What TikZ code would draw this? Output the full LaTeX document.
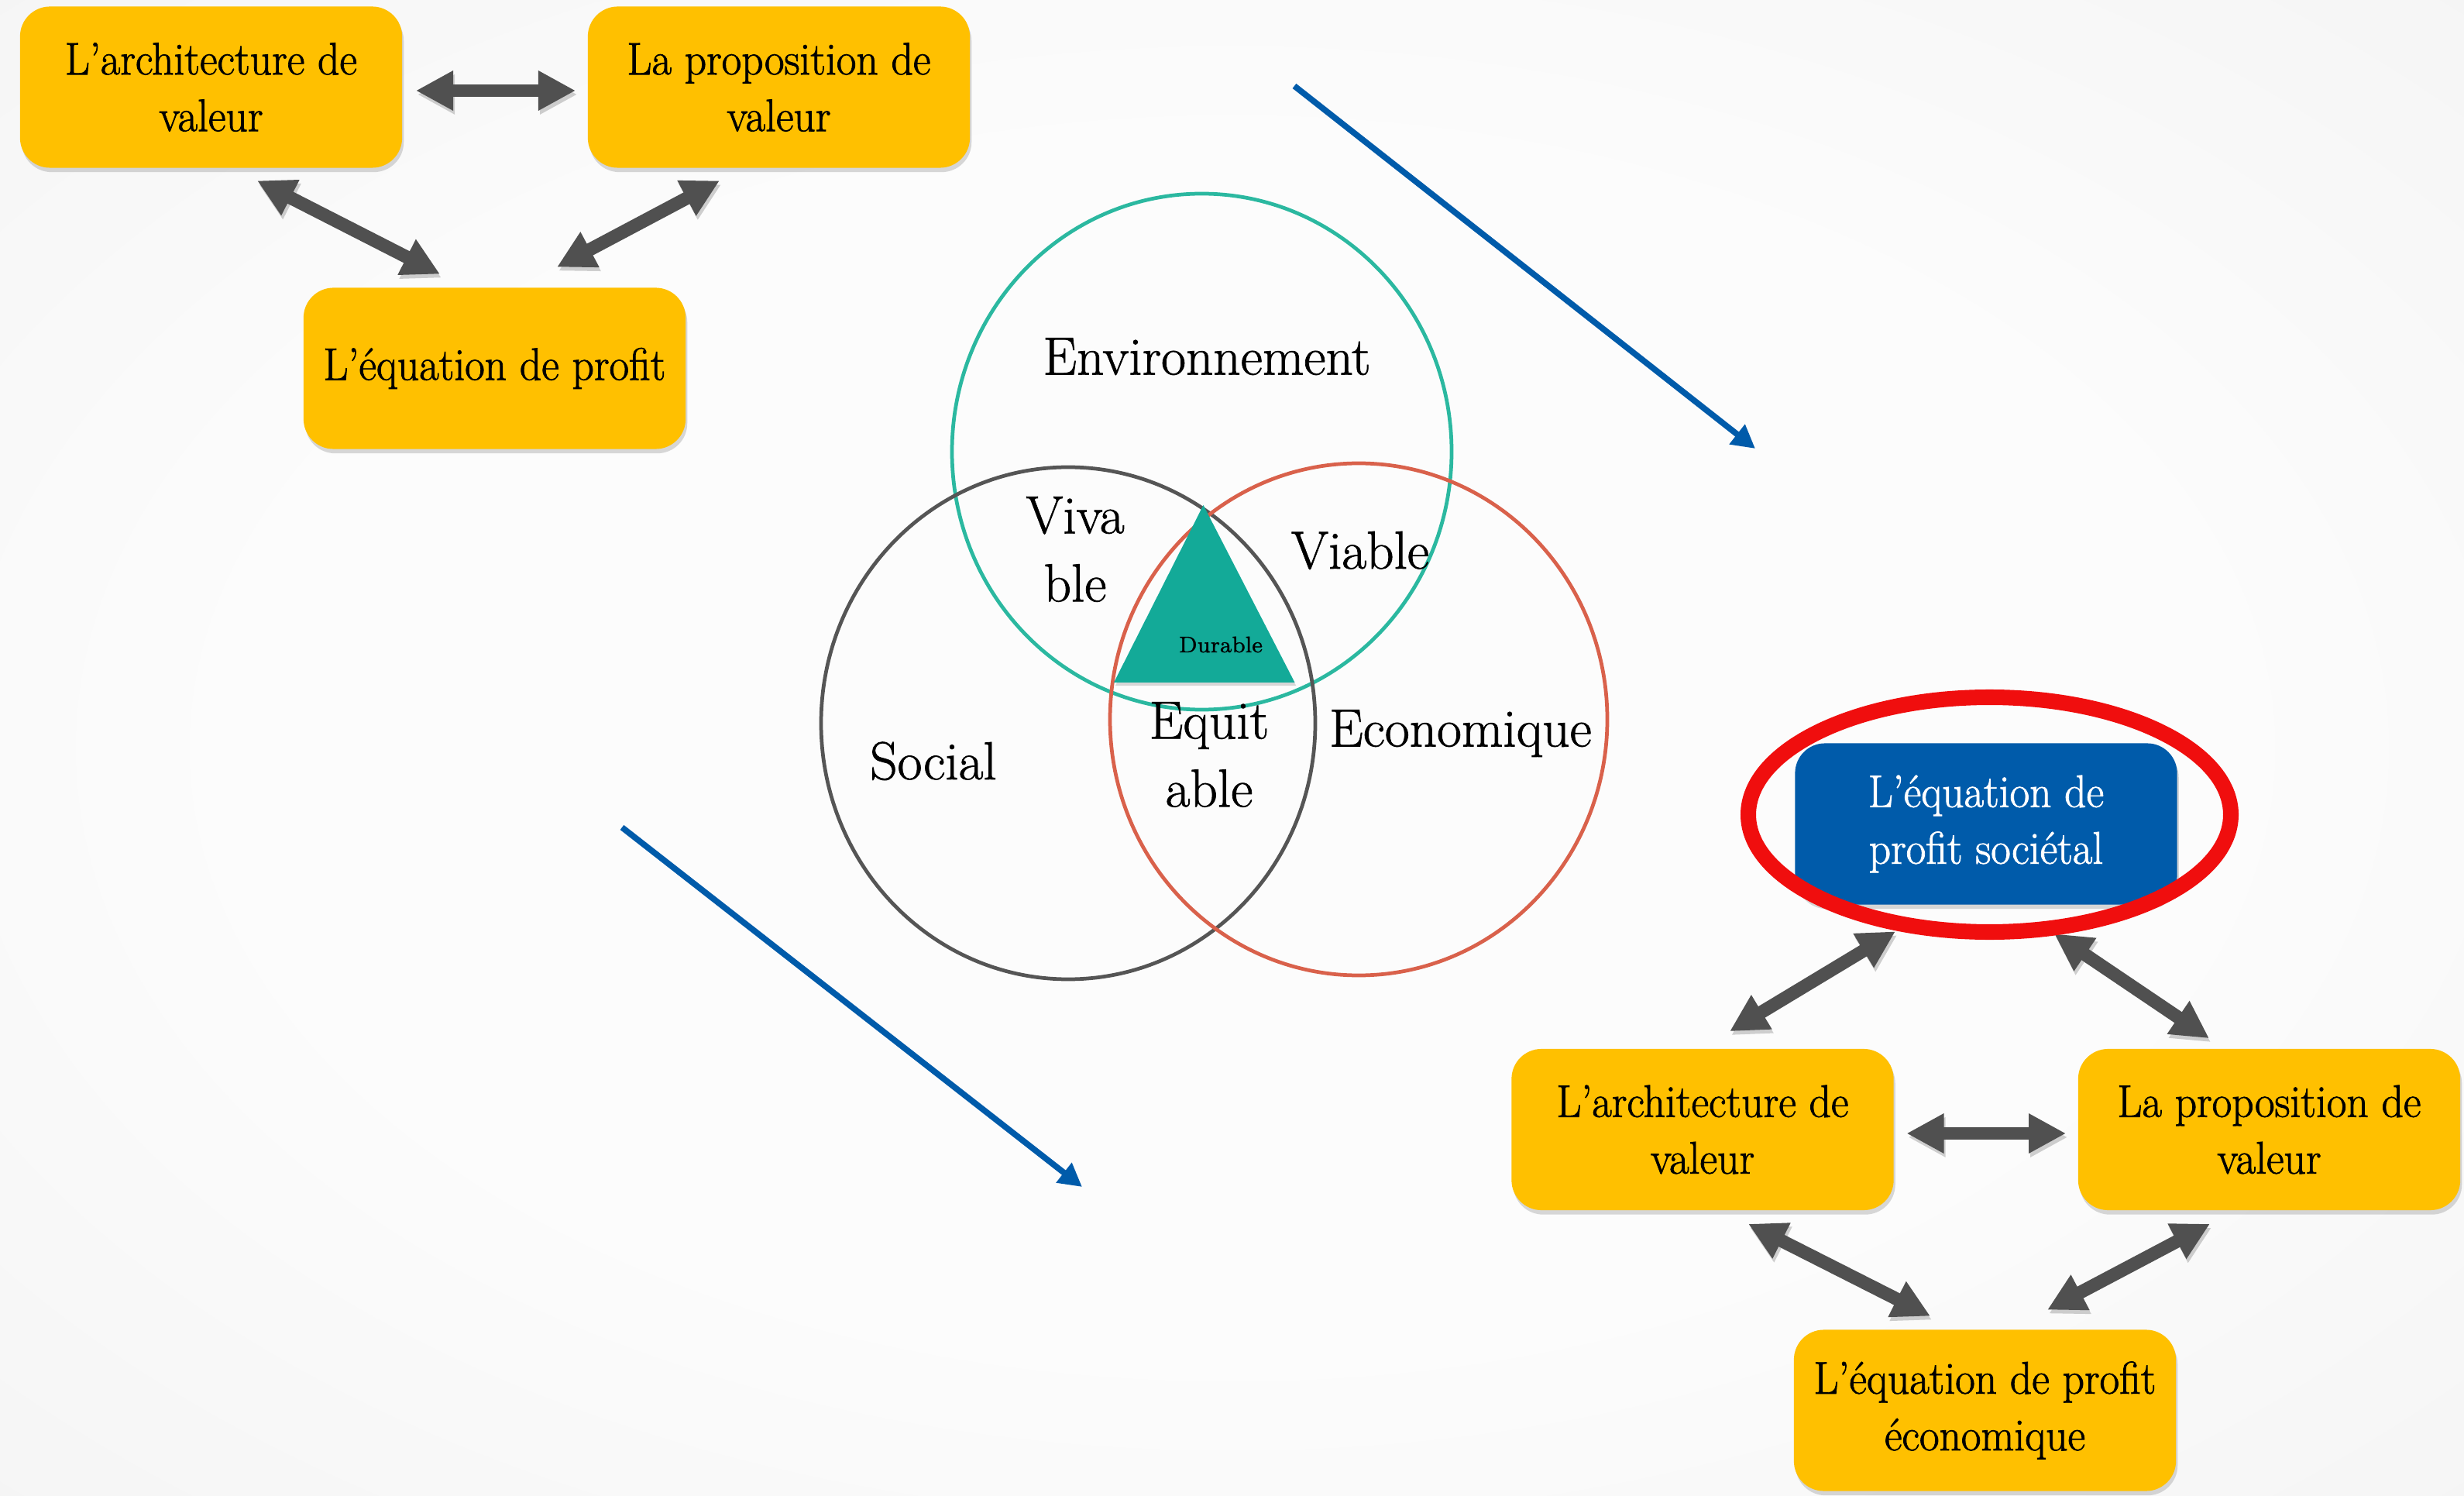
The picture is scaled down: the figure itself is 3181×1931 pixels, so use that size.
\documentclass[tikz,border=0pt]{standalone}
\usepackage{fontspec}
\newfontfamily\boxfont{Latin Modern Roman}[Ligatures=TeX, FakeStretch=0.94, FakeBold=1.3]
\newfontfamily\vennfont{Latin Modern Roman}[Ligatures=TeX, FakeBold=1.1]
\usetikzlibrary{arrows.meta,shadows,calc}
\definecolor{boxgold}{HTML}{FFC000}
\definecolor{boxblue}{HTML}{005BAA}
\definecolor{arrgray}{HTML}{505050}
\definecolor{arrblue}{HTML}{005BAA}
\definecolor{envteal}{HTML}{2BB8A0}
\definecolor{socgray}{HTML}{555555}
\definecolor{ecored}{HTML}{D9614B}
\definecolor{durteal}{HTML}{13AA98}
\definecolor{hired}{HTML}{F00E0E}
\definecolor{bgin}{HTML}{FCFCFC}
\definecolor{bgmid}{HTML}{EFEFEF}
\definecolor{bgout}{HTML}{D9D9D9}
\pgfdeclareradialshading{bgshade}{\pgfpoint{0bp}{0bp}}{color(0bp)=(bgin); color(20bp)=(bgin); color(50bp)=(bgmid); color(71bp)=(bgout)}
\begin{document}
\begin{tikzpicture}[x=0.01cm,y=-0.01cm,
  box/.style={rounded corners=11pt, minimum width=4.93cm, minimum height=2.08cm, align=center, inner sep=0pt,
    font=\boxfont\fontsize{16.8}{20.8}\selectfont,
    drop shadow={shadow xshift=0.6pt, shadow yshift=-1.6pt, opacity=0.3}},
  goldbox/.style={box, fill=boxgold, text=black},
  bluebox/.style={box, fill=boxblue, text=white},
  darr/.style={draw=arrgray, line width=4.8pt,
    {Triangle[length=13.7pt,width=13.7pt]}-{Triangle[length=13.7pt,width=13.7pt]},
    preaction={draw=black, opacity=0.18, transform canvas={xshift=0.6pt,yshift=-1.4pt}}},
  barr/.style={draw=arrblue, line width=2.2pt, -{Triangle[length=8.5pt,width=8.8pt]}},
  venn/.style={font=\vennfont\fontsize{19.7}{25}\selectfont, align=center, inner sep=0pt},
  ring/.style={line width=1.35pt},
]
\useasboundingbox (0,0) rectangle (3181,1931);
\shade[shading=bgshade] (0,0) rectangle (3181,1931);

% Venn circles
\draw[ring, envteal] (1551.5,583) ellipse [x radius=322.5, y radius=333];
\draw[ring, socgray] (1379,933.5) ellipse [x radius=319, y radius=330.5];
\draw[ring, ecored] (1754,928.5) ellipse [x radius=321, y radius=330.5];

% Durable triangle
\fill[durteal, drop shadow={shadow xshift=0.5pt, shadow yshift=-1.2pt, opacity=0.3}]
  (1553.5,652) -- (1438,881) -- (1671.5,881) -- cycle;
\node[font=\vennfont\fontsize{8.3}{10}\selectfont, anchor=base, inner sep=0pt] (dur) at (1576,842) {Durable};

% Venn labels
\node[venn, anchor=base] (env) at (1558,483.5) {Environnement};
\node[venn] (viva) at (1388,709) {Viva\\ble};
\node[venn, anchor=base] (viab) at (1756,734) {Viable};
\node[venn] (equi) at (1561,974) {Equit\\able};
\node[venn, anchor=base] (soc) at (1205,1006) {Social};
\node[venn, anchor=base] (eco) at (1885.5,963.5) {Economique};

% blue arrows
\coordinate (b1s) at (1671,111);
\coordinate (b1e) at (2266,579);
\coordinate (b2s) at (803,1068);
\coordinate (b2e) at (1397,1532);
\draw[barr] (b1s) -- (b1e);
\draw[barr] (b2s) -- (b2e);

% top-left group
\node[goldbox] (archA) at (272.5,112.5) {L’architecture de\\valeur};
\node[goldbox] (propB) at (1005.5,112.5) {La proposition de\\valeur};
\node[goldbox] (eqC) at (638.5,475.5) {L’équation de profit};

% bottom-right group
\node[bluebox] (eqS) at (2564,1063.5) {L’équation de\\profit sociétal};
\node[goldbox] (archD) at (2198,1458) {L’architecture de\\valeur};
\node[goldbox] (propE) at (2929.5,1458) {La proposition de\\valeur};
\node[goldbox] (eqF) at (2562.5,1820.5) {L’équation de profit\\économique};

% dark double arrows
\draw[darr] ($(archA.east)+(17,4.5)$) -- ($(propB.west)+(-15,4.5)$);
\draw[darr] ($(archA.south)+(59.5,16)$) -- ($(eqC.north)+(-70.5,-17)$);
\draw[darr] ($(propB.south)+(-76.5,16)$) -- ($(eqC.north)+(80.5,-26)$);
\draw[darr] ($(eqS.south)+(-117,34)$) -- ($(archD.north)+(35,-22)$);
\draw[darr] ($(eqS.south)+(88,37)$) -- ($(propE.north)+(-77.5,-13)$);
\draw[darr] ($(archD.east)+(16,5)$) -- ($(propE.west)+(-15,5)$);
\draw[darr] ($(archD.south)+(59,17)$) -- ($(eqF.north)+(-70.5,-17)$);
\draw[darr] ($(propE.south)+(-76.5,17)$) -- ($(eqF.north)+(80.5,-25)$);

% red highlight
\draw[hired, line width=5.7pt] (2568.5,1051.5) ellipse [x radius=311.5, y radius=151.5];
\end{tikzpicture}
\end{document}
